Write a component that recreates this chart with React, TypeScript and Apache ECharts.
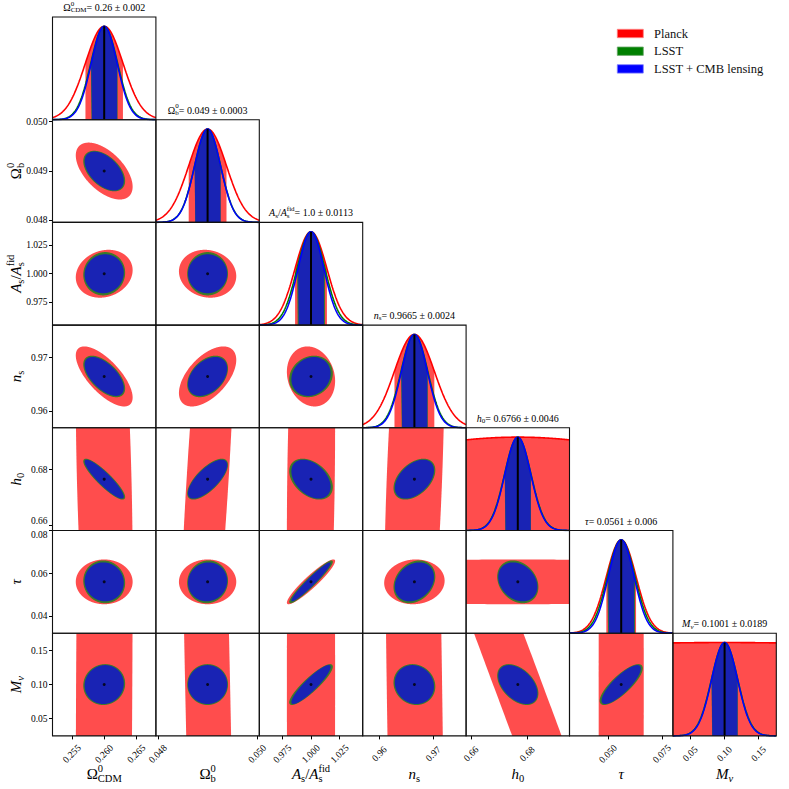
import React, { useEffect, useRef } from "react";
import * as echarts from "echarts";

// ---------------- data ----------------
const fiducial = [0.26, 0.049, 1.0, 0.9665, 0.6766, 0.0561, 0.1001];
const sigmaCombined = [0.002, 0.00026, 0.0113, 0.0024, 0.0046, 0.006, 0.0189];
const sigmaLSST = [0.00207, 0.000262, 0.0122, 0.00248, 0.00468, 0.0064, 0.0192];
const sigmaPlanck = [0.0029, 0.00038, 0.0139, 0.0037, 0.075, 0.0069, 0.83];

// correlation coefficients, lower triangle [row][col]
const rhoCombined = [
  [],
  [-0.5],
  [0.05, 0.0],
  [-0.6, 0.4, 0.15],
  [-0.9, 0.72, -0.4, 0.45],
  [-0.05, 0.05, 0.96, 0.25, -0.25],
  [0.05, 0.0, 0.9, -0.1, -0.45, 0.82],
];
const rhoPlanck = [
  [],
  [-0.55],
  [0.15, -0.1],
  [-0.7, 0.55, -0.15],
  [-0.28, 0.68, 0.17, 0.4],
  [0.0, 0.0, 0.93, 0.05, 0.0],
  [0.15, -0.62, 0.0, -0.4, -0.997, 0.0],
];

const titleValues = [
  "0.26 ± 0.002",
  "0.049 ± 0.0003",
  "1.0 ± 0.0113",
  "0.9665 ± 0.0024",
  "0.6766 ± 0.0046",
  "0.0561 ± 0.006",
  "0.1001 ± 0.0189",
];

const xTickValues = [
  [0.255, 0.26, 0.265],
  [0.048, 0.05],
  [0.975, 1.0, 1.025],
  [0.96, 0.97],
  [0.66, 0.68],
  [0.05, 0.075],
  [0.05, 0.1, 0.15],
];
const xTickLabels = [
  ["0.255", "0.260", "0.265"],
  ["0.048", "0.050"],
  ["0.975", "1.000", "1.025"],
  ["0.96", "0.97"],
  ["0.66", "0.68"],
  ["0.050", "0.075"],
  ["0.05", "0.10", "0.15"],
];
const yTickValues = [
  [],
  [0.048, 0.049, 0.05],
  [0.975, 1.0, 1.025],
  [0.96, 0.97],
  [0.66, 0.68],
  [0.04, 0.06, 0.08],
  [0.05, 0.1, 0.15],
];
const yTickLabels = [
  [],
  ["0.048", "0.049", "0.050"],
  ["0.975", "1.000", "1.025"],
  ["0.96", "0.97"],
  ["0.66", "0.68"],
  ["0.04", "0.06", "0.08"],
  ["0.05", "0.10", "0.15"],
];

const legendNames = ["Planck", "LSST", "LSST + CMB lensing"];

// ---------------- styles ----------------
const FONT = '"Liberation Serif", "DejaVu Serif", serif';
const lineColors = ["#ff0000", "#008000", "#0000ff"];
const fillColors = ["#ff4d4d", "#357a2a", "#1923b4"];
const legendEdges = ["#ff8080", "#6aa86a", "#8080ff"];
const L = 52.5, T = 17, CW = 103.4, CH = 102.7;
const NSIG = 4;
const TICK_FS = 9.5;

type Part = { t: string; s?: number; dy?: number; it?: boolean; stack?: boolean };
const SC = 0.7, SUP = -0.38, SUB = 0.28;
const symbolParts: Part[][] = [
  [{ t: "Ω" }, { t: "0", s: SC, dy: SUP }, { t: "CDM", s: SC, dy: SUB, stack: true }],
  [{ t: "Ω" }, { t: "0", s: SC, dy: SUP }, { t: "b", s: SC, dy: SUB, stack: true }],
  [
    { t: "A", it: true }, { t: "s", s: SC, dy: SUB }, { t: "/" }, { t: "A", it: true },
    { t: "fid", s: SC, dy: SUP }, { t: "s", s: SC, dy: SUB, stack: true },
  ],
  [{ t: "n", it: true }, { t: "s", s: SC, dy: SUB }],
  [{ t: "h", it: true }, { t: "0", s: SC, dy: SUB }],
  [{ t: "τ", it: true }],
  [{ t: "M", it: true }, { t: "ν", s: SC, dy: SUB, it: true }],
];

let measureCtx: CanvasRenderingContext2D | null = null;
function measure(t: string, size: number, it: boolean) {
  if (!measureCtx) measureCtx = document.createElement("canvas").getContext("2d");
  if (!measureCtx) return t.length * size * 0.5;
  measureCtx.font = `${it ? "italic " : ""}${size}px ${FONT}`;
  return measureCtx.measureText(t).width;
}

function mathGroup(parts: Part[], size: number, x: number, y: number, rotation = 0) {
  let cur = 0, lastStart = 0;
  const placed: { start: number; fs: number; p: Part }[] = [];
  for (const p of parts) {
    const fs = size * (p.s ?? 1);
    const w = measure(p.t, fs, !!p.it);
    const start = p.stack ? lastStart : cur;
    placed.push({ start, fs, p });
    if (p.stack) cur = Math.max(cur, start + w);
    else { lastStart = start; cur = start + w; }
  }
  const off = -cur / 2;
  return {
    type: "group", x, y, rotation, silent: true,
    children: placed.map(({ start, fs, p }) => ({
      type: "text", x: start + off, y: (p.dy ?? 0) * size, z: 100, silent: true,
      style: {
        text: p.t, fontSize: fs, fontFamily: FONT, fontStyle: p.it ? "italic" : "normal",
        fill: "#000", align: "left", verticalAlign: "middle",
      },
    })),
  };
}

function gaussCurve(mu: number, s: number, a: number, b: number, n: number) {
  const out: number[][] = [];
  for (let m = 0; m <= n; m++) {
    const x = a + ((b - a) * m) / n;
    out.push([x, Math.exp(-0.5 * ((x - mu) / s) ** 2)]);
  }
  return out;
}

function ellipse(mx: number, my: number, sx: number, sy: number, rho: number, n = 720) {
  const k = Math.sqrt(2.3);
  const r = Math.sqrt(1 - rho * rho);
  const pts: number[][] = [];
  for (let m = 0; m < n; m++) {
    const t = (2 * Math.PI * m) / n;
    pts.push([mx + k * sx * Math.cos(t), my + k * sy * (rho * Math.cos(t) + r * Math.sin(t))]);
  }
  return pts;
}

function clipEdge(pts: number[][], inside: (p: number[]) => boolean, inter: (a: number[], b: number[]) => number[]) {
  const out: number[][] = [];
  const n = pts.length;
  for (let k = 0; k < n; k++) {
    const cur = pts[k], prev = pts[(k + n - 1) % n];
    const ci = inside(cur), pi = inside(prev);
    if (ci) { if (!pi) out.push(inter(prev, cur)); out.push(cur); }
    else if (pi) out.push(inter(prev, cur));
  }
  return out;
}
function clipPoly(pts: number[][], x0: number, y0: number, x1: number, y1: number) {
  const lx = (a: number[], b: number[], x: number) => [x, a[1] + ((b[1] - a[1]) * (x - a[0])) / (b[0] - a[0])];
  const ly = (a: number[], b: number[], y: number) => [a[0] + ((b[0] - a[0]) * (y - a[1])) / (b[1] - a[1]), y];
  let p = pts;
  p = clipEdge(p, (q) => q[0] >= x0, (a, b) => lx(a, b, x0)); if (p.length < 3) return [];
  p = clipEdge(p, (q) => q[0] <= x1, (a, b) => lx(a, b, x1)); if (p.length < 3) return [];
  p = clipEdge(p, (q) => q[1] >= y0, (a, b) => ly(a, b, y0)); if (p.length < 3) return [];
  p = clipEdge(p, (q) => q[1] <= y1, (a, b) => ly(a, b, y1));
  return p;
}

function labelFor(values: number[], labels: string[], lowShift = false, highShift = false) {
  return (v: number) => {
    const idx = values.findIndex((t) => Math.abs(t - v) < 1e-9);
    if (idx < 0) return "";
    const txt = labels[idx];
    if (lowShift && idx === 0) return `{up|${txt}}`;
    if (highShift && idx === values.length - 1) return `{dn|${txt}}`;
    return txt;
  };
}

function buildOption() {
  const grids: any[] = [], xAxes: any[] = [], yAxes: any[] = [], series: any[] = [], graphics: any[] = [];
  const sigmaSets = [sigmaPlanck, sigmaLSST, sigmaCombined];
  const n = fiducial.length;
  let gi = 0;
  for (let i = 0; i < n; i++) {
    for (let j = 0; j <= i; j++) {
      const left = L + j * CW, top = T + i * CH;
      grids.push({ left, top, width: CW, height: CH, show: false });
      const xlo = fiducial[j] - NSIG * sigmaCombined[j], xhi = fiducial[j] + NSIG * sigmaCombined[j];
      const bottomRow = i === n - 1;
      xAxes.push({
        gridIndex: gi, type: "value", min: xlo, max: xhi,
        axisLine: { show: false }, splitLine: { show: false },
        axisTick: bottomRow
          ? { show: true, length: 3.5, inside: false, customValues: xTickValues[j], lineStyle: { color: "#000", width: 1 } }
          : { show: false },
        axisLabel: bottomRow
          ? {
              show: true, customValues: xTickValues[j], formatter: labelFor(xTickValues[j], xTickLabels[j]),
              rotate: 45, align: "center", verticalAlign: "middle", margin: 18,
              fontSize: TICK_FS, fontFamily: FONT, color: "#000",
            }
          : { show: false },
      });
      if (i === j) {
        yAxes.push({ gridIndex: gi, type: "value", min: 0, max: 1.1, show: false });
        const mu = fiducial[i];
        sigmaSets.forEach((sg, k) => {
          const s = sg[i];
          series.push({
            type: "line", xAxisIndex: gi, yAxisIndex: gi, silent: true, symbol: "none",
            data: gaussCurve(mu, s, Math.max(xlo, mu - s), Math.min(xhi, mu + s), 80),
            lineStyle: { width: 0, color: fillColors[k] },
            areaStyle: { color: fillColors[k], opacity: 1 },
          });
        });
        sigmaSets.forEach((sg, k) => {
          series.push({
            type: "line", xAxisIndex: gi, yAxisIndex: gi, silent: true, symbol: "none",
            data: gaussCurve(mu, sg[i], xlo, xhi, 240),
            lineStyle: { width: 1.6, color: lineColors[k] },
          });
        });
        series.push({
          type: "line", xAxisIndex: gi, yAxisIndex: gi, silent: true, symbol: "none",
          data: [[mu, 0], [mu, 1]], lineStyle: { width: 2, color: "#000" },
        });
        graphics.push(mathGroup([...symbolParts[i], { t: "= " + titleValues[i] }], 10, left + CW / 2, top - 9.5));
      } else {
        const ylo = fiducial[i] - NSIG * sigmaCombined[i], yhi = fiducial[i] + NSIG * sigmaCombined[i];
        const leftCol = j === 0;
        yAxes.push({
          gridIndex: gi, type: "value", min: ylo, max: yhi,
          axisLine: { show: false }, splitLine: { show: false },
          axisTick: leftCol
            ? { show: true, length: 3.5, inside: false, customValues: yTickValues[i], lineStyle: { color: "#000", width: 1 } }
            : { show: false },
          axisLabel: leftCol
            ? {
                show: true, customValues: yTickValues[i],
                formatter: labelFor(yTickValues[i], yTickLabels[i], i === 4, i === 5),
                margin: 5, fontSize: TICK_FS, fontFamily: FONT, color: "#000",
                rich: {
                  up: { fontSize: TICK_FS, fontFamily: FONT, color: "#000", padding: [0, 0, 9, 0] },
                  dn: { fontSize: TICK_FS, fontFamily: FONT, color: "#000", padding: [9, 0, 0, 0] },
                },
              }
            : { show: false },
        });
        const mx = fiducial[j], my = fiducial[i];
        const ells = [
          ellipse(mx, my, sigmaPlanck[j], sigmaPlanck[i], rhoPlanck[i][j]),
          ellipse(mx, my, sigmaLSST[j], sigmaLSST[i], rhoCombined[i][j]),
          ellipse(mx, my, sigmaCombined[j], sigmaCombined[i], rhoCombined[i][j]),
        ];
        series.push({
          type: "custom", xAxisIndex: gi, yAxisIndex: gi, silent: true, clip: true,
          data: [[mx, my], [mx, my], [mx, my]],
          renderItem: (params: any, api: any) => {
            const idx = params.dataIndex;
            const cs = params.coordSys;
            const pts = ells[idx].map((p) => api.coord(p));
            const clipped = clipPoly(pts, cs.x, cs.y, cs.x + cs.width, cs.y + cs.height);
            if (clipped.length < 3) return { type: "group", children: [] };
            return {
              type: "polygon", shape: { points: clipped },
              style: idx === 1
                ? { fill: fillColors[idx], stroke: "#3d7a2a", lineWidth: 1.3 }
                : { fill: fillColors[idx], stroke: "none" },
            };
          },
        });
        series.push({
          type: "scatter", xAxisIndex: gi, yAxisIndex: gi, silent: true,
          data: [[mx, my]], symbolSize: 3, itemStyle: { color: "#000" },
        });
      }
      graphics.push({
        type: "rect", z: 90, silent: true,
        shape: { x: left, y: top, width: CW, height: CH },
        style: { fill: "none", stroke: "#111", lineWidth: 1.1 },
      });
      gi++;
    }
  }
  // axis names
  for (let j = 0; j < n; j++) {
    graphics.push(mathGroup(symbolParts[j], 15, L + (j + 0.5) * CW, 774));
  }
  for (let i = 1; i < n; i++) {
    graphics.push(mathGroup(symbolParts[i], 15, 16, T + (i + 0.5) * CH, Math.PI / 2));
  }
  // legend
  legendNames.forEach((name, k) => {
    const y = 29.3 + k * 17.7;
    graphics.push({
      type: "rect", z: 100, silent: true,
      shape: { x: 617.3, y, width: 26, height: 8.4 },
      style: { fill: lineColors[k], stroke: legendEdges[k], lineWidth: 0.8 },
    });
    graphics.push({
      type: "text", z: 100, silent: true, x: 654, y: y + 4.4,
      style: { text: name, fontSize: 12.5, fontFamily: FONT, fill: "#111", align: "left", verticalAlign: "middle" },
    });
  });

  return {
    animation: false,
    backgroundColor: "#fff",
    grid: grids,
    xAxis: xAxes,
    yAxis: yAxes,
    series,
    graphic: graphics,
  };
}

export default function App() {
  const ref = useRef<HTMLDivElement>(null);
  useEffect(() => {
    if (!ref.current) return;
    const chart = echarts.init(ref.current, null, { renderer: "svg" });
    chart.setOption(buildOption() as any);
    return () => chart.dispose();
  }, []);
  return <div ref={ref} style={{ width: 789, height: 789, position: "absolute", left: 0, top: 0 }} />;
}
